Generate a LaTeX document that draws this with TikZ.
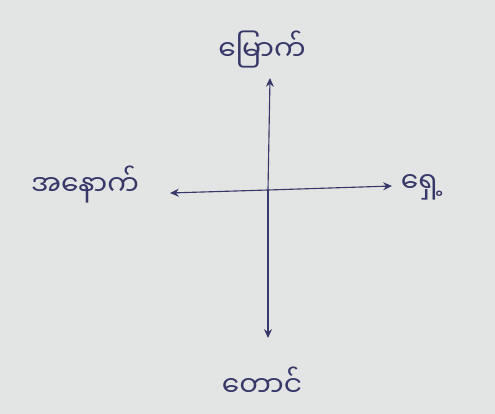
\documentclass[tikz,border=0pt]{standalone}
\usepackage{fontspec}
\newfontfamily\mmfont[Script=Myanmar]{Noto Sans Myanmar UI}
\usetikzlibrary{arrows.meta, positioning}
\definecolor{paper}{RGB}{226,229,227}
\definecolor{ink}{RGB}{55,55,105}
\tikzset{
  dirlabel/.style = {inner sep=0pt, text=ink, font=\mmfont\fontsize{20}{24}\selectfont},
  axis/.style     = {-{Stealth[length=2.2mm, width=2mm]}, ink, line width=0.8pt},
}

\begin{document}
\begin{tikzpicture}[x=0.025cm, y=-0.025cm]
    \useasboundingbox (0,0) rectangle (495,414);
    \fill[paper] (0,0) rectangle (495,414);
    % axis ends
    \coordinate (c) at (268,190);
    \coordinate (n) at (270,78);
    \coordinate (s) at (268,338);
    \coordinate (w) at (170,193);
    \coordinate (e) at (392,186);
    \draw[axis] (c) -- (n);
    \draw[axis] (c) -- (s);
    \draw[axis] (c) -- (w);
    \draw[axis] (c) -- (e);
    % direction names
    \node[dirlabel] (north) at (262,50) {မြောက်};
    \node[dirlabel] (south) at (262,382) {တောင်};
    \node[dirlabel] (west) at (85,185) {အနောက်};
    \node[dirlabel] (east) at (422,187) {ရှေ့};
\end{tikzpicture}
\end{document}
